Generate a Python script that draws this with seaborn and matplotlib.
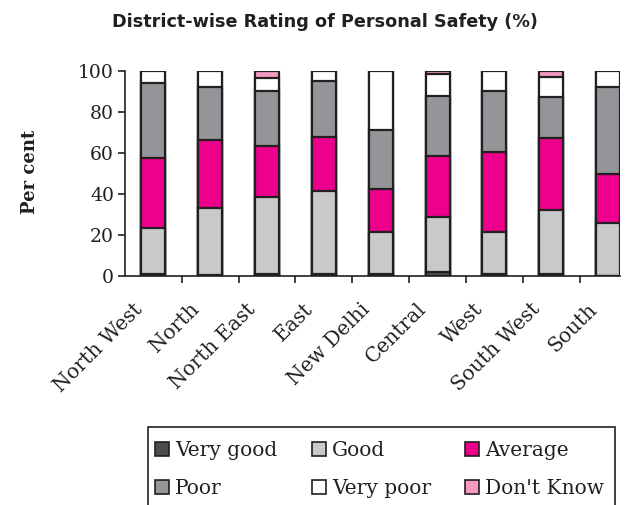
import matplotlib
matplotlib.use("Agg")
import matplotlib.pyplot as plt
from matplotlib.patches import Patch, Rectangle
from matplotlib.ticker import FixedLocator
from matplotlib.transforms import ScaledTranslation
import numpy as np
import pandas as pd
import seaborn as sns

districts = ["North West", "North", "North East", "East", "New Delhi",
             "Central", "West", "South West", "South"]
categories = ["Very good", "Good", "Average", "Poor", "Very poor", "Don't Know"]

very_good = [1.0, 0.5, 1.0, 1.0, 1.0, 1.8, 1.0, 1.0, 0.0]
good = [22.5, 32.5, 37.7, 40.7, 20.4, 27.2, 20.4, 31.0, 26.0]
average = [34.2, 33.3, 24.8, 26.3, 21.1, 29.7, 39.2, 35.3, 24.0]
poor = [36.5, 25.9, 26.8, 27.0, 28.7, 29.0, 29.7, 20.1, 42.2]
very_poor = [5.8, 7.8, 6.2, 5.0, 28.8, 10.7, 9.7, 9.6, 7.8]
dont_know = [0.0, 0.0, 3.5, 0.0, 0.0, 1.6, 0.0, 3.0, 0.0]

series = [very_good, good, average, poor, very_poor, dont_know]
colors = ["#4d4d4f", "#c8c9cb", "#ec008c", "#939598", "#ffffff", "#f49ac1"]
edge = "#231f20"

sns.set_style("white")
plt.rcParams["font.family"] = ["DejaVu Serif"]

W, H = 633, 505
fig = plt.figure(figsize=(W / 100, H / 100), dpi=100)
ax = fig.add_axes([125 / W, 1 - 276 / H, (620 - 125) / W, (276 - 71) / H])

# Stack by drawing cumulative totals from the top layer down
cum = np.cumsum(np.array(series), axis=0)
bar_w = 0.42
for i in range(len(categories) - 1, -1, -1):
    df = pd.DataFrame({"district": districts, "value": cum[i]})
    sns.barplot(data=df, x="district", y="value", order=districts,
                color=colors[i], saturation=1, width=bar_w,
                edgecolor=edge, linewidth=1.6, ax=ax, errorbar=None)

ax.set_xlim(-0.5, len(districts) - 1 + bar_w / 2)
ax.set_ylim(0, 100)
ax.set_yticks(np.arange(0, 101, 20))
ax.set_xlabel("")
ax.set_ylabel("")

for s in ["top", "right"]:
    ax.spines[s].set_visible(False)
for s in ["left", "bottom"]:
    ax.spines[s].set_color(edge)
    ax.spines[s].set_linewidth(1.2)

ax.tick_params(axis="y", which="major", direction="out", length=5, width=1.2,
               color=edge, left=True, labelsize=13.5, labelcolor="#231f20", pad=3)
ax.tick_params(axis="x", which="major", length=0, pad=6)
ax.xaxis.set_minor_locator(FixedLocator(np.arange(0.5, len(districts) - 1, 1)))
ax.tick_params(axis="x", which="minor", direction="out", length=5, width=1.2,
               color=edge, bottom=True)
ax.set_xticks(range(len(districts)))
ax.set_xticklabels(districts, rotation=45, ha="right", va="top",
                   rotation_mode="anchor", fontsize=14.5, color="#231f20")
shift = ScaledTranslation(-15 / 72, -11 / 72, fig.dpi_scale_trans)
for lbl in ax.get_xticklabels():
    lbl.set_transform(lbl.get_transform() + shift)

fig.text(325 / W, 1 - 22 / H, "District-wise Rating of Personal Safety (%)",
         ha="center", va="center", fontsize=12.7, fontweight="bold",
         family=["DejaVu Sans"], color="#231f20")
fig.text(30 / W, 1 - 172 / H, "Per cent", rotation=90, ha="center",
         va="center", fontsize=13, fontweight="bold", color="#231f20")

# Legend box, open at the bottom edge of the figure
fig.add_artist(Rectangle((148 / W, -0.02), (615 - 148) / W, 0.02 + (H - 427) / H,
                         transform=fig.transFigure, facecolor="none",
                         edgecolor=edge, linewidth=1.2))

handles = [Patch(facecolor=c, edgecolor=edge, linewidth=1.2, label=l)
           for c, l in zip(colors, categories)]
order = [0, 3, 1, 4, 2, 5]
leg = fig.legend([handles[k] for k in order], [categories[k] for k in order],
                 ncol=3, loc="upper left",
                 bbox_to_anchor=(155 / W, 1 - 441 / H),
                 frameon=False, fontsize=14.5,
                 handlelength=0.7, handleheight=0.7, handletextpad=0.3,
                 columnspacing=1.7, labelspacing=0.95, borderpad=0,
                 borderaxespad=0)
for t in leg.get_texts():
    t.set_color("#231f20")

fig.savefig("out.png", dpi=100)
